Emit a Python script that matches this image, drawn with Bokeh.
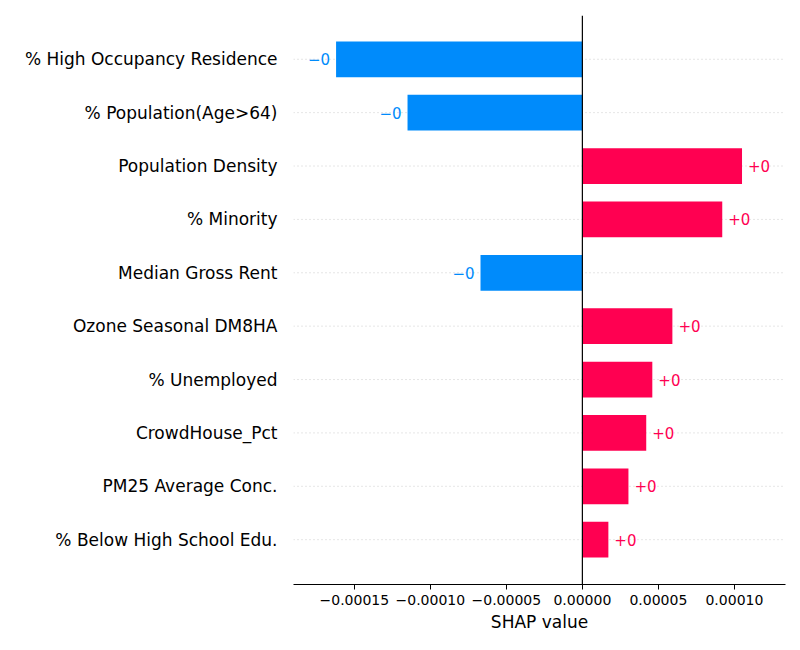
from bokeh.plotting import figure
from bokeh.models import ColumnDataSource, FixedTicker, Span
from bokeh.core.properties import value
from bokeh.embed import file_html
from bokeh.resources import INLINE

features = ["% High Occupancy Residence", "% Population(Age>64)", "Population Density",
            "% Minority", "Median Gross Rent", "Ozone Seasonal DM8HA", "% Unemployed",
            "CrowdHouse_Pct", "PM25 Average Conc.", "% Below High School Edu."]
shap_vals = [-0.000162, -0.000115, 0.000105, 0.000092, -0.000067,
             0.0000592, 0.000046, 0.000042, 0.0000303, 0.0000171]
x_ticks = [-0.00015, -0.0001, -0.00005, 0.0, 0.00005, 0.0001]
x_tick_labels = ["\u22120.00015", "\u22120.00010", "\u22120.00005", "0.00000", "0.00005", "0.00010"]

BLUE = "#008bfb"
RED = "#ff0051"
n = len(features)
ypos = [n - 1 - i for i in range(n)]
colors = [RED if v > 0 else BLUE for v in shap_vals]

src = ColumnDataSource(dict(y=ypos, v=shap_vals, c=colors))
pos = ColumnDataSource(dict(y=[y for y, v in zip(ypos, shap_vals) if v > 0],
                            v=[v for v in shap_vals if v > 0]))
neg = ColumnDataSource(dict(y=[y for y, v in zip(ypos, shap_vals) if v < 0],
                            v=[v for v in shap_vals if v < 0]))

p = figure(width=792, height=634, output_backend="svg", toolbar_location=None,
           x_range=(-0.00019, 0.0001336), y_range=(-0.84, n - 1 + 0.82),
           min_border_left=293, min_border_top=15, min_border_bottom=47, min_border_right=7)
p.outline_line_color = None

# dotted row guides
for y in ypos:
    p.line([-0.00019, 0.0001336], [y, y], line_color="#cccccc", line_dash="1 3", line_width=1)

p.hbar(y="y", left=0, right="v", height=0.67, color="c", line_color=None, source=src)
p.add_layout(Span(location=0, dimension="height", line_color="black", line_width=1.2))

p.text(x="v", y="y", text=value("+0"), source=pos, x_offset=6, text_baseline="middle",
       text_align="left", text_color=RED, text_font_size="15px", text_font=value("DejaVu Sans"))
p.text(x="v", y="y", text=value("\u22120"), source=neg, x_offset=-6, text_baseline="middle",
       text_align="right", text_color=BLUE, text_font_size="15px", text_font=value("DejaVu Sans"))

p.xgrid.visible = False
p.ygrid.visible = False
p.xaxis.ticker = FixedTicker(ticks=x_ticks)
p.xaxis.major_label_overrides = {t: l for t, l in zip(x_ticks, x_tick_labels)}
p.xaxis.minor_tick_line_color = None
p.xaxis.major_tick_in = 0
p.xaxis.major_tick_out = 5
p.xaxis.major_label_text_font = "DejaVu Sans"
p.xaxis.major_label_text_font_size = "14px"
p.xaxis.major_label_text_color = "black"
p.xaxis.axis_label = "SHAP value"
p.xaxis.axis_label_text_font = "DejaVu Sans"
p.xaxis.axis_label_text_font_style = "normal"
p.xaxis.axis_label_text_font_size = "17px"
p.xaxis.axis_label_text_color = "black"
p.xaxis.axis_label_standoff = 4

p.yaxis.ticker = FixedTicker(ticks=ypos)
p.yaxis.major_label_overrides = {y: f for y, f in zip(ypos, features)}
p.yaxis.axis_line_color = None
p.yaxis.major_tick_line_color = None
p.yaxis.minor_tick_line_color = None
p.yaxis.major_label_text_font = "DejaVu Sans"
p.yaxis.major_label_text_font_size = "17px"
p.yaxis.major_label_text_color = "black"
p.yaxis.major_label_standoff = 10

open("out.html", "w").write(file_html(p, INLINE))
